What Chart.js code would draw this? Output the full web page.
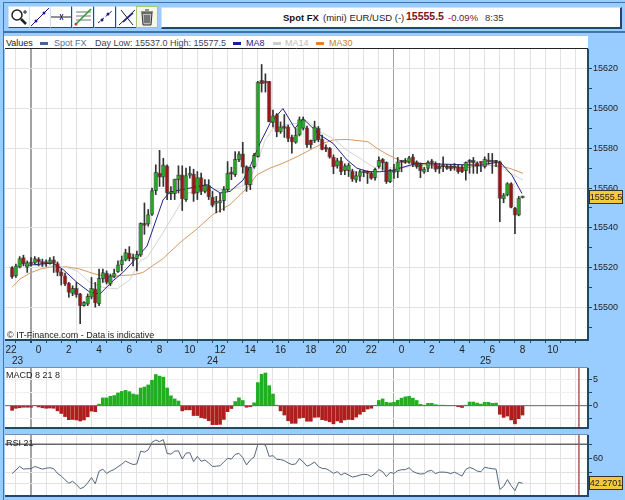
<!DOCTYPE html>
<html>
<head>
<meta charset="utf-8">
<title>Spot FX EUR/USD</title>
<script src="https://cdn.jsdelivr.net/npm/chart.js@4"></script>
<style>
  html, body { margin: 0; padding: 0; }
  body { width: 625px; height: 500px; position: relative; overflow: hidden; background: #99ccff; font: 9px "Liberation Sans", Arial, sans-serif; color: #222; }
  canvas { position: absolute; left: 0; }
  .abs { position: absolute; white-space: nowrap; line-height: 11px; }
  #topbar { position: absolute; left: 3px; right: 0; top: 2px; height: 28px; border-top: 1px solid #3f74ac; border-bottom: 2px solid #3f74ac; border-left: 1px solid #3f74ac; }
  #leftbar { position: absolute; left: 3px; top: 33px; bottom: 0; width: 1px; background: #3f74ac; }
  .btn { position: absolute; top: 6px; width: 20px; height: 20px; background: #fff; border: 1px solid #2c4a6e; border-left-color: #cfe2f5; border-top-color: #cfe2f5; }
  .btn svg { display: block; }
  .btn.on { border: 1px solid #a8c878; background: #f4f7ea; }
  #titlebox { position: absolute; left: 161px; top: 7px; width: 458px; height: 19px; background: #fff; border: 1px solid #cfe2f5; border-right: 2px solid #24466e; border-bottom: 2px solid #24466e; }
  #valuesbar { position: absolute; left: 4px; top: 36px; width: 584px; height: 13px; background: #fff; }
  .sw { position: absolute; top: 42px; width: 8px; height: 3px; }
</style>
</head>
<body>
<div id="topbar"></div>
<div id="leftbar"></div>

<div class="btn" style="left:8px"><svg width="20" height="20"><circle cx="8" cy="8" r="5" fill="#fff" stroke="#222" stroke-width="1.5"/><path d="M12 12l5 5" stroke="#222" stroke-width="2.5"/><path d="M14 5h4M16 3v4" stroke="#222"/></svg></div>
<div class="btn" style="left:29px"><svg width="20" height="20"><path d="M1 19L19 1" stroke="#1a1a8c"/><circle cx="6" cy="14" r="1.5" fill="#1a1a8c"/><circle cx="14" cy="6" r="1.5" fill="#1a1a8c"/></svg></div>
<div class="btn" style="left:50px"><svg width="20" height="20"><path d="M0 10H20" stroke="#222"/><path d="M9 7l3 6M12 7l-3 6" stroke="#1a1a8c"/></svg></div>
<div class="btn" style="left:72px"><svg width="20" height="20"><path d="M3 5H18M3 9H18M3 13H18" stroke="#777"/><path d="M2 18L18 2" stroke="#1f9e2e" stroke-width="1.5"/><circle cx="3" cy="17" r="1.5" fill="#d04020"/></svg></div>
<div class="btn" style="left:94px"><svg width="20" height="20"><path d="M3 16L17 4" stroke="#1a1a8c" stroke-dasharray="3 2"/><circle cx="7" cy="13" r="1.5" fill="#1a1a8c"/><circle cx="13" cy="7" r="1.5" fill="#1a1a8c"/></svg></div>
<div class="btn" style="left:116px"><svg width="20" height="20"><path d="M2 18L18 3M4 3L16 18" stroke="#222"/><path d="M6 15L16 6" stroke="#1a1a8c" stroke-width="1.5"/></svg></div>
<div class="btn on" style="left:136px"><svg width="20" height="20"><path d="M5 6H15L14 18H6Z" fill="#bbb" stroke="#333"/><path d="M4 5H16M8 3H12M8 8V16M10 8V16M12 8V16" stroke="#333"/></svg></div>

<div id="titlebox"></div>
<div class="abs" style="left:283px;top:12px;font-size:9.5px;font-weight:bold;color:#111">Spot FX</div>
<div class="abs" style="left:323px;top:12px;font-size:9.5px;color:#222">(mini) EUR/USD (-)</div>
<div class="abs" style="left:406px;top:11px;font-size:10.5px;font-weight:bold;color:#7a1420">15555.5</div>
<div class="abs" style="left:448px;top:12px;font-size:9.5px;color:#7a1420">-0.09%</div>
<div class="abs" style="left:485px;top:12px;font-size:9.5px;color:#333">8:35</div>

<div id="valuesbar"></div>
<div class="abs" style="left:6px;top:38px;color:#222">Values</div>
<div class="sw" style="left:40px;background:#4a6688"></div>
<div class="abs" style="left:54px;top:38px;color:#5a7090">Spot FX</div>
<div class="abs" style="left:95px;top:38px;color:#445">Day Low: 15537.0 High: 15577.5</div>
<div class="sw" style="left:233px;background:#1a1aa0"></div>
<div class="abs" style="left:246px;top:38px;color:#1a1a8c">MA8</div>
<div class="sw" style="left:273px;background:#ccc"></div>
<div class="abs" style="left:285px;top:38px;color:#bbb">MA14</div>
<div class="sw" style="left:316px;background:#e08030"></div>
<div class="abs" style="left:329px;top:38px;color:#c58030">MA30</div>

<canvas id="mainChart" width="625" height="320" style="top:47px"></canvas>
<canvas id="macdChart" width="625" height="66" style="top:366px"></canvas>
<canvas id="rsiChart" width="625" height="67" style="top:433px"></canvas>

<div class="abs" style="left:7px;top:330px;color:#222">© IT-Finance.com - Data is indicative</div>
<div class="abs" style="left:12px;top:355px;font-size:10px;color:#222">23</div>
<div class="abs" style="left:207px;top:355px;font-size:10px;color:#222">24</div>
<div class="abs" style="left:480px;top:355px;font-size:10px;color:#222">25</div>
<div class="abs" style="left:6px;top:370px;color:#222">MACD 8 21 8</div>
<div class="abs" style="left:6px;top:438px;color:#222">RSI 21</div>

<script>
// 15 minute candles, oldest first
const opens = [15520,15515.7,15520.2,15525,15520,15522.5,15522.2,15524.2,15523,15522.8,15522.2,15523.8,15522,15517.8,15515.8,15512,15507,15509.5,15506.7,15500.8,
  15501.5,15505,15509.2,15501.7,15514.2,15517.2,15511.7,15515.3,15517.8,15521.3,15523.7,15527.2,15524.7,15524.5,15526.2,15542.2,15541.8,15546.7,15558.7,15567.5,
  15565.5,15571.2,15557.2,15557.2,15564.2,15566.7,15554.2,15566.3,15567,15557.5,15565.3,15558.3,15561.2,15555.5,15552.2,15552.5,15553.7,15559.2,15568.2,15566.7,
  15574.2,15577.2,15570.8,15561.7,15570.8,15575.8,15614.2,15613.3,15613.7,15593,15597,15588.3,15590.8,15590.8,15585.5,15583,15586.7,15590,15590.3,15584.2,
  15583.7,15590,15584.5,15580.5,15580,15575.5,15571.2,15573.7,15568.8,15568.8,15568.7,15564,15565.8,15568.3,15568.2,15567.7,15565.2,15570.7,15574.4,15572.9,
  15563.2,15568.2,15568.2,15573.2,15574,15573.2,15575.7,15573.2,15571.9,15568,15569.9,15573.2,15572.4,15571,15571,15571,15571,15571,15570.7,15570.4,
  15568.7,15573.7,15574,15572.7,15572.7,15570.7,15574,15573.7,15573.7,15573.2,15554.5,15556.5,15562.3,15549.8,15546.4,15555];
const highs = [15520.5,15521.7,15525.5,15526.2,15523.3,15525,15525.5,15525,15524.2,15523.8,15525,15525.5,15522.8,15519.2,15517.2,15512.5,15510.8,15512.5,15507,15502.8,
  15506.7,15515,15512.5,15519.2,15519.2,15518.3,15516.7,15519.2,15523.3,15525.8,15529.2,15530.5,15526.7,15528.3,15542.5,15552.5,15549.2,15560,15571.7,15579,
  15575,15571.7,15560.8,15564.5,15571.2,15571.2,15570,15570.8,15569.5,15568.3,15567.5,15564.2,15564.2,15558.3,15555.8,15557.5,15560.8,15573.3,15570.5,15578.3,
  15578.3,15583,15571.2,15570.5,15577.5,15613.7,15622.2,15617.5,15613.7,15599.2,15597.5,15593.3,15597,15591.7,15586.7,15590,15595.8,15595.8,15591.2,15584.2,
  15593.7,15591,15586.7,15581.7,15580.5,15576.7,15575,15575.5,15572.2,15572.5,15569.5,15568.3,15569.2,15569,15568.7,15568.2,15570,15575.7,15574.9,15573.2,
  15569.4,15572,15575.4,15574,15574.9,15576,15577,15573.7,15572.7,15570.4,15573.7,15574.4,15573.2,15572.4,15575.7,15571.9,15571.9,15572.4,15571.6,15571.4,
  15573.2,15574.4,15575.4,15573.2,15573.2,15575.7,15577.5,15577.4,15574,15573.6,15557.3,15562.7,15562.7,15550.3,15555.8,15556];
const lows = [15514.5,15515,15519.8,15520.8,15517.5,15520.8,15521.7,15520.8,15520.5,15520.5,15521.7,15517.5,15515.8,15511.2,15510.8,15505,15505.8,15505,15491.7,15500.5,
  15500.8,15504.2,15500,15500.8,15512.5,15511.7,15510.8,15514.8,15517.5,15518.3,15523.3,15523.3,15520.8,15518.3,15525.5,15536.7,15540.8,15546.2,15556.7,15560.8,
  15560.8,15554.2,15554.2,15554.2,15557.5,15548.7,15553.3,15565,15553.3,15554.2,15556.7,15557.5,15554.2,15550.5,15547.5,15547.8,15548.7,15558.3,15564.2,15565.8,
  15573.3,15567.5,15558.3,15559.2,15570,15575.5,15608.3,15608.3,15593.3,15590.8,15585.8,15587.5,15585.5,15583.3,15577.5,15582.5,15586.2,15589.2,15580.5,15580,
  15582.8,15583.3,15579.2,15578.3,15575,15567.2,15570,15566.7,15566.7,15565.8,15563.3,15562.8,15563.5,15565.7,15562.3,15564.4,15564,15570,15569,15562.3,
  15562.7,15564.9,15565.2,15568.2,15572.4,15572.4,15570.7,15569.9,15565.2,15567.4,15568.2,15569.9,15568.2,15567.4,15568.2,15569.4,15568.7,15569,15567.4,15567.7,
  15564,15567.4,15567.4,15567.4,15568.2,15570,15572,15567.4,15570.7,15543.1,15552.6,15556,15550,15537,15546,15555];
const closes = [15515.3,15520.8,15524.5,15521.7,15522.5,15521.7,15524.5,15522.8,15521.8,15522,15523.8,15522.2,15517.5,15515.8,15511.7,15507.5,15509.5,15506.3,15500.8,15502.5,
  15505.5,15509.5,15502.2,15514.5,15517.5,15512.5,15515.8,15517.2,15521.3,15523.7,15527.5,15524.5,15524.3,15526.7,15542.2,15541.2,15546.7,15558.7,15568,15565.5,
  15571.7,15557.5,15558.2,15564.5,15566.7,15554.7,15566.3,15567.5,15557,15565.3,15558.3,15561.5,15555.5,15551.2,15553.3,15553.7,15559.5,15567.5,15567,15574.5,
  15577.2,15570.5,15561.7,15570.5,15576.5,15613.3,15612.5,15612.8,15593.3,15596.3,15588.3,15590.8,15590,15585,15583.3,15586.7,15594.5,15594.5,15581.7,15581.7,
  15590.8,15584.2,15579.5,15579.5,15575.5,15570.8,15573.8,15568.3,15571.2,15571.5,15564.5,15566.3,15568.3,15567.7,15567.4,15564.8,15569.4,15574,15572.7,15563.2,
  15568.7,15567.9,15573.2,15572.9,15572.9,15575.2,15572,15570.7,15568.7,15569.5,15572.9,15572.7,15569.4,15569.7,15570.7,15569.9,15569.5,15570,15568.2,15568.2,
  15572.9,15572.9,15572.7,15571,15572.4,15574.4,15573.2,15573,15572.9,15554.8,15556.5,15562.3,15550.3,15546.4,15554.8,15555.5];

// moving averages, sampled as hour / value pairs
const ma8Hours = [-0.4,1.45,2.12,3.04,3.9,4.56,5.42,6.08,7,7.67,8.73,9.19,11.64,12.5,13.16,14.02,14.48,15.14,15.8,16.66,17.45,17.98,19.11,19.97,20.89,21.55,22.28,23.07,23.93,25.06,25.59,29.69,31.01,31.8,32.46];
const ma8Values = [15521,15522.2,15519,15512.5,15507.5,15506.7,15513.3,15517.5,15525,15530.8,15554,15558,15561.7,15557.5,15558.3,15564,15570.8,15582.5,15592.5,15600,15590,15595,15586.7,15582.5,15574.2,15570,15568.3,15568.2,15569,15571.5,15572.4,15571.5,15573.2,15566.5,15557.3];
const ma14Hours = [0.26,2.12,3.04,3.9,4.76,5.69,6.55,7.21,7.67,8.73,9.85,10.31,12.03,13.16,14.28,14.94,15.47,16,16.66,17.45,18.25,19.11,19.97,20.89,21.75,22.74,24.6,25.52,30.35,31.01,32.53];
const ma14Values = [15521,15520.5,15518.3,15512.5,15510,15509.2,15514,15523.3,15525,15537.5,15551.7,15557.5,15559,15559,15562,15572,15584,15590,15591.7,15592.5,15594,15588.3,15585,15579,15575,15570,15570.2,15571.5,15571.5,15570.4,15564];
const ma30Hours = [-1.26,-0.73,-0.07,0.6,1.45,2.38,3.24,4.1,4.76,5.69,6.74,7.4,8.73,9.85,10.98,12.03,13.16,14.28,14.94,15.8,16.66,17.59,18.45,19.31,19.97,20.89,22.28,22.88,23.54,24.07,24.6,25.52,27.04,28.83,30.15,31.01,31.67,32.53];
const ma30Values = [15510,15514.2,15517.2,15519.2,15520.5,15520.3,15519.2,15517,15515.8,15515.8,15516.3,15517.5,15524.5,15532.5,15539.5,15546.7,15551.7,15560,15566.7,15570,15572.5,15575.8,15579.2,15582.5,15584.2,15584.5,15583.3,15580,15577,15575,15573.2,15572.4,15571,15570.4,15571.5,15571,15569.9,15567.4];

const macdValues = [-0.9,-0.5,-0.4,-0.3,-0.3,-0.3,0,-0.25,-0.4,-0.5,-0.45,-0.5,-1,-1.5,-2.1,-2.7,-2.65,-2.75,-2.95,-2.75,
  -2.15,-1.05,-1.15,0.3,1.5,1.5,1.8,1.95,2.45,2.75,2.95,2.7,2.25,2.1,3.4,3.6,4,4.9,6,5.7,
  5.5,3.4,1.9,1.3,0.9,-1,-0.8,-0.8,-1.9,-1.9,-2.3,-2.45,-2.9,-3.65,-3.65,-3.6,-2.65,-1.15,-0.55,0.8,
  1.5,1,-0.3,-0.2,0.55,4.45,6.05,6.3,3.85,2.25,0.1,-1,-1.8,-2.9,-3.4,-3.4,-2.4,-2.3,-3,-3,
  -2.25,-2.2,-2.7,-2.85,-3.1,-3.5,-2.95,-3.25,-2.75,-2.65,-2.7,-2.2,-1.65,-1.15,-0.65,-0.5,0,1,1.3,0.65,
  0.55,0.65,1.05,1.45,1.7,1.8,1.45,1,0.25,0.1,0.45,0.45,0.2,0.1,0.1,0,0,0,-0.2,-0.35,
  0.05,0.7,0.7,0.5,0.3,0.65,0.65,0.45,0.5,-1.65,-2.25,-2,-2.75,-3.5,-2.5,-1.8];
const rsiValues = [49.1,51.6,54.2,52.3,52.6,52.6,54.2,53.3,52.3,53,53.3,52.6,49.3,47.4,44.7,42.3,43.7,41.4,38.4,39.5,
  42.6,46.3,41.9,50.9,52.3,49.3,50.9,52.1,54,55.8,58.1,56.7,55.6,56,65.1,64.4,66,71.4,73,71.9,
  73.3,63.5,63,65.1,65.3,59.5,63.7,64,57.7,61.4,57.9,58.8,56.7,54.2,54.4,54.7,57.4,60,59.5,62.8,
  63.5,60.5,55.3,58.8,60.9,69.8,70,69.5,61.4,61.9,59.3,59.1,58.4,56.7,55.6,56,59.8,57.4,54.4,55.6,
  57.4,54.2,52.8,52.6,51.2,49.3,50.5,48.1,49.5,48.1,46.7,47.2,48.1,48.6,48.4,47,49.3,51.9,50.5,47,
  50,49.3,51.2,51.9,51.9,53.3,50.7,49.5,48.8,49.1,50.9,51.4,49.1,50.2,50.2,50,49.1,50.2,48.8,47.4,
  52.1,53.5,52.6,50.9,50.5,53.7,53,52.6,52.3,37.9,40,44.9,40.5,37,43,42.2701];

// axis ticks; hours run from midnight on the 23rd
const hourTicks = [-2,-1,0,1,2,3,4,5,6,7,8,9,10,11,12,13,14,15,16,17,18,19,20,21,22,23,24,25,26,27,28,29,30,31,32,33,34,35,36];
const labelledHours = [-2,0,2,4,6,8,10,12,14,16,18,20,22,24,26,28,30,32,34];
const hourLabels = ['  22','0','2','4','6','8','10','12','14','16','18','20','22','0','2','4','6','8','10'];
const midnightHours = [0,24];
const priceTicks = [15490,15500,15510,15520,15530,15540,15550,15560,15570,15580,15590,15600,15610,15620];
const priceLabelled = [15500,15520,15540,15560,15580,15600,15620];
const macdTicks = [-2.5,0,2.5,5];
const macdLabelled = [0,5];
const rsiTicks = [42,50,60,70];
const rsiLabelled = [60];

const lastPrice = 15555.5;
const lastRsi = 42.2701;
const firstBarHour = -1.25;
const cursorHour = 36.23;

const MIN_HOUR = -1.72, MAX_HOUR = 36.83;
const FONT = { family: '"Liberation Sans", Arial, sans-serif', size: 9 };
const UP = '#22a822', DOWN = '#981616', EDGE = 'rgba(30,30,30,0.55)';

const barHours = opens.map((_, i) => firstBarHour + i / 4);
const pairs = (xs, ys) => xs.map((x, i) => ({ x, y: ys[i] }));

// white plot background, frame, optional cursor line and value tag
const panelFrame = {
  id: 'panelFrame',
  beforeDraw(chart, args, opts) {
    const a = chart.chartArea, c = chart.ctx;
    c.fillStyle = '#fff';
    c.fillRect(a.left, a.top, a.width, a.height);
  },
  afterDraw(chart, args, opts) {
    const a = chart.chartArea, c = chart.ctx;
    c.save();
    if (opts.cursor !== undefined) {
      const x = chart.scales.x.getPixelForValue(opts.cursor);
      c.strokeStyle = '#a85a5a';
      c.lineWidth = 1.5;
      c.beginPath(); c.moveTo(x, a.top); c.lineTo(x, a.bottom); c.stroke();
    }
    c.strokeStyle = '#24466e';
    c.lineWidth = 2;
    c.beginPath();
    c.moveTo(a.left, a.bottom); c.lineTo(a.right, a.bottom); c.lineTo(a.right, a.top);
    c.stroke();
    c.lineWidth = 1;
    c.strokeStyle = opts.topLine;
    c.beginPath(); c.moveTo(a.left, a.top - 0.5); c.lineTo(a.right, a.top - 0.5); c.stroke();
    if (opts.tag !== undefined) {
      const y = Math.round(chart.scales.y.getPixelForValue(opts.tag));
      c.fillStyle = '#f6c93c';
      c.strokeStyle = '#333';
      c.fillRect(a.right + 1.5, y - 6.5, 33, 13);
      c.strokeRect(a.right + 1.5, y - 6.5, 33, 13);
      c.fillStyle = '#222';
      c.font = '9px "Liberation Sans", Arial, sans-serif';
      c.textBaseline = 'middle';
      c.textAlign = 'center';
      c.fillText(String(opts.tag), a.right + 18, y + 0.5);
    }
    c.restore();
  }
};

function fixedSize(width, height) {
  return (scale) => {
    if (width) scale.width = width;
    if (height) scale.height = height;
    scale.paddingLeft = scale.paddingRight = scale.paddingTop = scale.paddingBottom = 0;
  };
}

function hourAxis(showLabels) {
  return {
    type: 'linear',
    min: MIN_HOUR,
    max: MAX_HOUR,
    offset: false,
    display: true,
    afterBuildTicks: (s) => { s.ticks = hourTicks.map(value => ({ value })); },
    afterFit: fixedSize(0, showLabels ? 27 : 1),
    border: { display: false },
    grid: {
      offset: false,
      lineWidth: (ctx) => (ctx.tick && ctx.tick.value === 0 ? 2 : 1),
      color: (ctx) => {
        if (!ctx.tick || ctx.tick.value < MIN_HOUR) return 'rgba(0,0,0,0)';
        return midnightHours.includes(ctx.tick.value) ? '#a2a2a2' : '#e2e2e2';
      },
      tickColor: (ctx) => (ctx.tick && ctx.tick.value < MIN_HOUR ? 'rgba(0,0,0,0)' : '#24466e'),
      tickLength: showLabels ? 3 : 0
    },
    ticks: {
      display: showLabels,
      autoSkip: false,
      maxRotation: 0,
      labelOffset: 7.5,
      padding: 1,
      font: { family: FONT.family, size: 10 },
      color: '#222',
      callback: (v) => { const i = labelledHours.indexOf(v); return i < 0 ? '' : hourLabels[i]; }
    }
  };
}

function valueAxis(min, max, tickList, labelled, gridColor) {
  return {
    type: 'linear',
    position: 'right',
    min,
    max,
    afterBuildTicks: (s) => { s.ticks = tickList.map(value => ({ value })); },
    afterFit: fixedSize(37, 0),
    border: { display: false },
    grid: { color: gridColor, tickColor: '#24466e', tickLength: 4 },
    ticks: {
      autoSkip: false,
      padding: 1,
      font: FONT,
      color: '#222',
      callback: (v) => (labelled.includes(v) ? String(v) : '')
    }
  };
}

const mainY = valueAxis(15483.5, 15630, priceTicks, priceLabelled, '#e2e2e2');
mainY.grid.color = (ctx) => (ctx.tick && priceLabelled.includes(ctx.tick.value) ? '#e2e2e2' : 'rgba(0,0,0,0)');

const maLine = (hours, values, color, order) => ({
  type: 'line',
  data: pairs(hours, values),
  borderColor: color,
  borderWidth: 1,
  pointRadius: 0,
  tension: 0,
  order
});

new Chart(document.getElementById('mainChart'), {
  type: 'bar',
  data: {
    datasets: [
      {
        data: barHours.map((x, i) => ({ x, y: [opens[i], closes[i]] })),
        backgroundColor: opens.map((o, i) => (closes[i] >= o ? UP : DOWN)),
        borderColor: EDGE,
        borderWidth: 1,
        borderSkipped: false,
        barThickness: 4,
        minBarLength: 2,
        grouped: false,
        order: 1
      },
      {
        data: barHours.map((x, i) => ({ x, y: [lows[i], highs[i]] })),
        backgroundColor: '#333',
        barThickness: 1,
        grouped: false,
        order: 2
      },
      maLine(ma8Hours, ma8Values, '#23238f', 3),
      maLine(ma14Hours, ma14Values, '#d4d4d4', 4),
      maLine(ma30Hours, ma30Values, '#d69a62', 5)
    ]
  },
  options: {
    responsive: false,
    animation: false,
    layout: { padding: { left: 5, top: 2, right: 0, bottom: 0 } },
    plugins: { legend: { display: false }, tooltip: { enabled: false }, panelFrame: { tag: lastPrice, topLine: '#222' } },
    scales: { x: hourAxis(true), y: mainY }
  },
  plugins: [panelFrame]
});

new Chart(document.getElementById('macdChart'), {
  type: 'bar',
  data: {
    datasets: [
      {
        type: 'line',
        data: [{ x: MIN_HOUR, y: 0 }, { x: MAX_HOUR, y: 0 }],
        borderColor: '#666',
        borderWidth: 1,
        pointRadius: 0,
        order: 1
      },
      {
        data: barHours.map((x, i) => ({ x, y: macdValues[i] })),
        backgroundColor: macdValues.map(v => (v >= 0 ? '#22ad22' : '#b01d1d')),
        barThickness: 3,
        grouped: false,
        order: 2
      }
    ]
  },
  options: {
    responsive: false,
    animation: false,
    layout: { padding: { left: 5, top: 2, right: 0, bottom: 3 } },
    plugins: { legend: { display: false }, tooltip: { enabled: false }, panelFrame: { cursor: cursorHour, topLine: '#6f8fb3' } },
    scales: { x: hourAxis(false), y: valueAxis(-4.3, 7.26, macdTicks, macdLabelled, '#efefef') }
  },
  plugins: [panelFrame]
});

new Chart(document.getElementById('rsiChart'), {
  type: 'line',
  data: {
    datasets: [
      {
        data: [{ x: MIN_HOUR, y: 70 }, { x: MAX_HOUR, y: 70 }],
        borderColor: '#666',
        borderWidth: 1.5,
        pointRadius: 0
      },
      {
        data: barHours.map((x, i) => ({ x, y: rsiValues[i] })),
        borderColor: '#55677f',
        borderWidth: 1,
        pointRadius: 0,
        tension: 0
      }
    ]
  },
  options: {
    responsive: false,
    animation: false,
    layout: { padding: { left: 5, top: 2, right: 0, bottom: 3 } },
    plugins: { legend: { display: false }, tooltip: { enabled: false }, panelFrame: { cursor: cursorHour, tag: lastRsi, topLine: '#6f8fb3' } },
    scales: { x: hourAxis(false), y: valueAxis(33.2, 76.6, rsiTicks, rsiLabelled, '#e2e2e2') }
  },
  plugins: [panelFrame]
});
</script>
</body>
</html>
